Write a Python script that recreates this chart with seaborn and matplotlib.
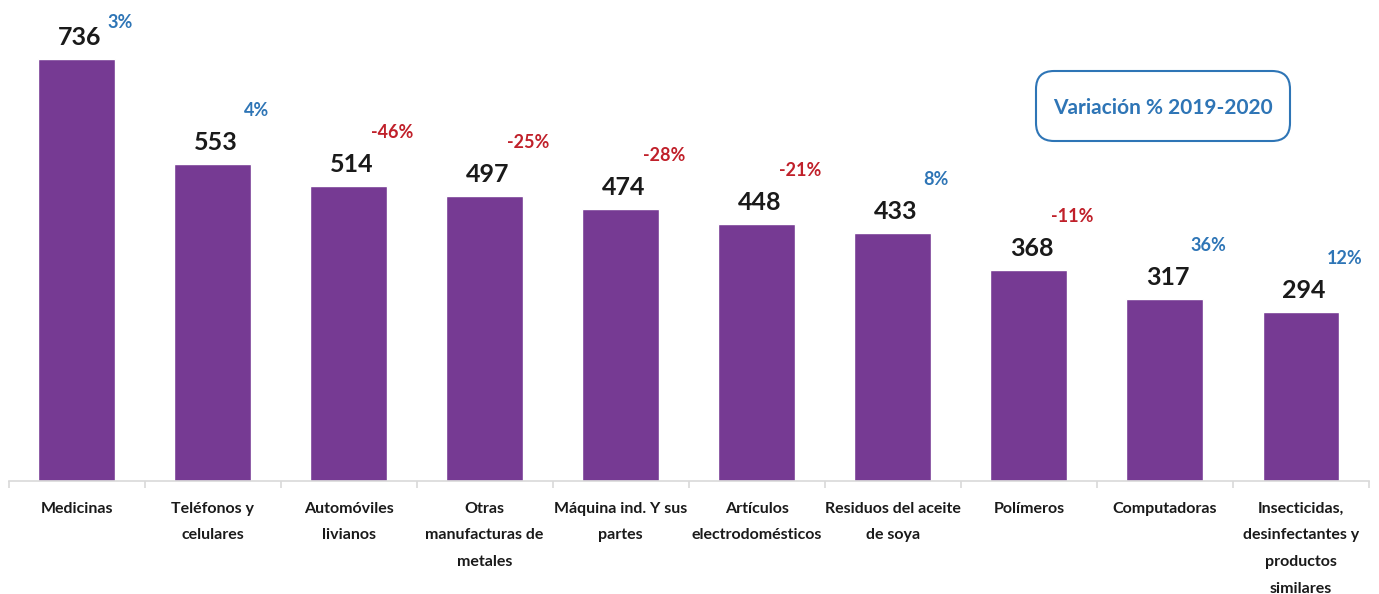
import matplotlib
matplotlib.use("Agg")
import matplotlib.pyplot as plt
import seaborn as sns
import pandas as pd
from matplotlib.patches import FancyBboxPatch
from matplotlib.transforms import IdentityTransform
from matplotlib.ticker import FixedLocator

categories = ["Medicinas", "Teléfonos y\ncelulares", "Automóviles\nlivianos",
              "Otras\nmanufacturas de\nmetales", "Máquina ind. Y sus\npartes",
              "Artículos\nelectrodomésticos", "Residuos del aceite\nde soya",
              "Polímeros", "Computadoras",
              "Insecticidas,\ndesinfectantes y\nproductos\nsimilares"]
values = [736, 553, 514, 497, 474, 448, 433, 368, 317, 294]
variation = [3, 4, -46, -25, -28, -21, 8, -11, 36, 12]
legend_text = "Variación % 2019-2020"

BAR = "#763A93"
BLUE = "#2E75B6"
RED = "#C0202A"

sns.set_theme(style="white")
plt.rcParams['font.family'] = ['Lato', 'DejaVu Sans']

df = pd.DataFrame({"cat": categories, "val": values})

fig = plt.figure(figsize=(13.79, 5.94), dpi=100)
ax = fig.add_axes([8.5/1379, 113/594, (1369-8.5)/1379, 481/594])
sns.barplot(data=df, x="cat", y="val", color=BAR, saturation=1, width=0.565, ax=ax)

ax.set_ylim(0, 839)
ax.set_xlim(-0.5, len(categories) - 0.5)
ax.set_xlabel("")
ax.set_ylabel("")
ax.set_yticks([])
for s in ["top", "left", "right"]:
    ax.spines[s].set_visible(False)
ax.spines["bottom"].set_color("#D9D9D9")
ax.spines["bottom"].set_linewidth(1.2)

ax.set_xticks(range(len(categories)))
ax.set_xticklabels(categories, fontsize=11.5, fontweight="bold", color="#1a1a1a", linespacing=2.15, va="top")
ax.tick_params(axis="x", which="major", length=0, pad=15)
ax.xaxis.set_minor_locator(FixedLocator([i - 0.5 for i in range(len(categories) + 1)]))
ax.tick_params(axis="x", which="minor", length=5, width=1.2, color="#D9D9D9", bottom=True)

for i, (v, p) in enumerate(zip(values, variation)):
    ax.annotate(f"{v}", (i, v), xytext=(3, 14), textcoords="offset pixels",
                ha="center", va="baseline", fontsize=18, fontweight="bold", color="#1a1a1a")
    py = min(v + 84, 790)
    ax.annotate(f"{p}%", (i + 0.32, py), ha="center", va="baseline",
                fontsize=13, fontweight="bold", color=BLUE if p >= 0 else RED)

box = FancyBboxPatch((1036, 453), 254, 70, boxstyle="round,pad=0,rounding_size=18",
                     transform=IdentityTransform(), facecolor="white", edgecolor=BLUE, linewidth=1.5)
fig.patches.append(box)
fig.text(1163/1379, (594-108)/594, legend_text, ha="center", va="center",
         fontsize=15, fontweight="bold", color=BLUE)

fig.savefig("out.png", dpi=100)
